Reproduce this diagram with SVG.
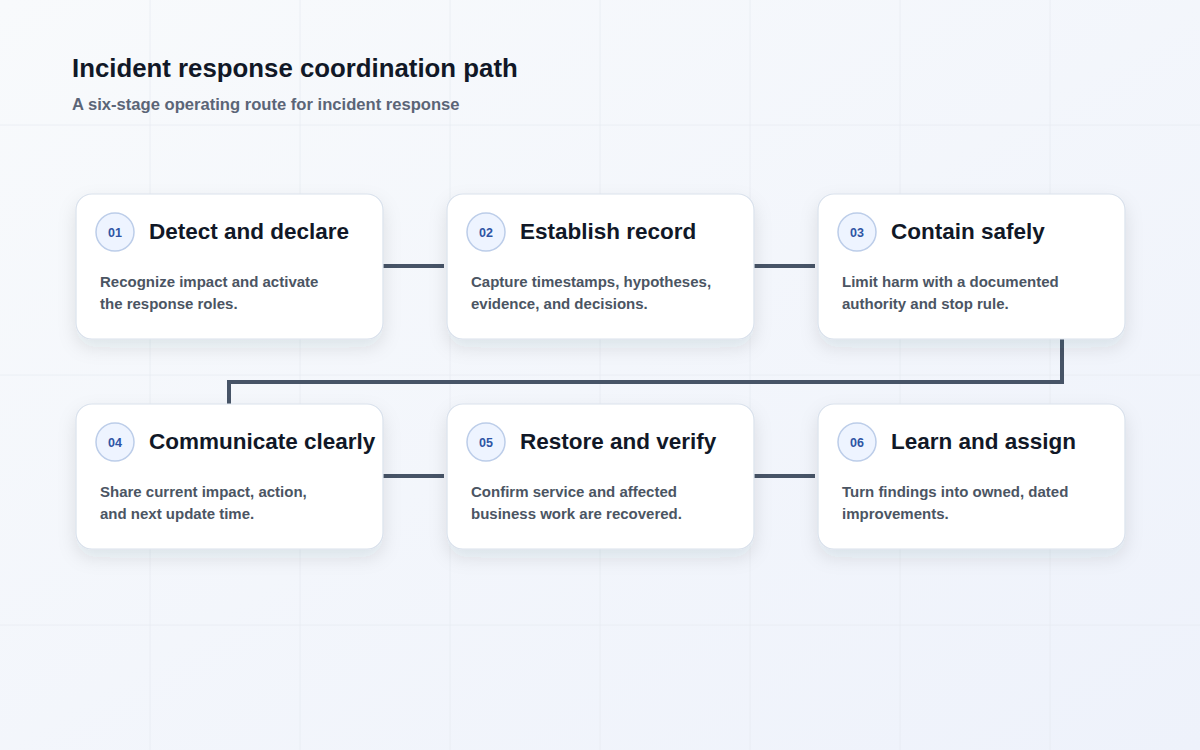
<svg xmlns="http://www.w3.org/2000/svg" width="1200" height="750" viewBox="0 0 1200 750">
<defs>
<linearGradient id="bg" x1="0" y1="0" x2="1" y2="1">
<stop offset="0" stop-color="#f8fafc"/>
<stop offset="1" stop-color="#eef2fb"/>
</linearGradient>
<filter id="sh" x="-20%" y="-20%" width="140%" height="160%">
<feDropShadow dx="0" dy="8" stdDeviation="9" flood-color="#1e293b" flood-opacity="0.10"/>
</filter>
<style>
.grid{stroke:#e6eaf1;stroke-width:1;opacity:0.7}
.card{fill:#ffffff;stroke:#d9e1ec;stroke-width:1.2;filter:url(#sh)}
.badge{fill:#eef4ff;stroke:#bccde9;stroke-width:1.5}
.num{font-family:"Liberation Sans",Arial,sans-serif;font-weight:bold;font-size:12.5px;fill:#2f55a4;text-anchor:middle}
.title{font-family:"Liberation Sans",Arial,sans-serif;font-weight:bold;font-size:22.5px;fill:#111827}
.desc{font-family:"Liberation Sans",Arial,sans-serif;font-weight:bold;font-size:15px;fill:#4b5563}
.conn{fill:none;stroke:#475467;stroke-width:4;stroke-linejoin:miter}
</style>
</defs>
<rect width="1200" height="750" fill="url(#bg)"/>
<g id="grid">
<line class="grid" x1="150" y1="0" x2="150" y2="750"/>
<line class="grid" x1="300" y1="0" x2="300" y2="750"/>
<line class="grid" x1="450" y1="0" x2="450" y2="750"/>
<line class="grid" x1="600" y1="0" x2="600" y2="750"/>
<line class="grid" x1="750" y1="0" x2="750" y2="750"/>
<line class="grid" x1="900" y1="0" x2="900" y2="750"/>
<line class="grid" x1="1050" y1="0" x2="1050" y2="750"/>
<line class="grid" x1="0" y1="125" x2="1200" y2="125"/>
<line class="grid" x1="0" y1="375" x2="1200" y2="375"/>
<line class="grid" x1="0" y1="625" x2="1200" y2="625"/>
</g>
<g id="header">
<text x="72" y="77" font-family="Liberation Sans, Arial, sans-serif" font-weight="bold" font-size="25.8" fill="#111827">Incident response coordination path</text>
<text x="72" y="110" font-family="Liberation Sans, Arial, sans-serif" font-weight="bold" font-size="16.6" fill="#5b6577">A six-stage operating route for incident response</text>
</g>
<g id="connectors">
<line class="conn" x1="383" y1="266" x2="444" y2="266"/>
<line class="conn" x1="754" y1="266" x2="815" y2="266"/>
<polyline class="conn" points="1062,339 1062,382 229,382 229,404"/>
<line class="conn" x1="383" y1="476" x2="444" y2="476"/>
<line class="conn" x1="754" y1="476" x2="815" y2="476"/>
</g>
<g id="node1">
<rect class="card" x="76" y="194" width="307" height="145" rx="16"/>
<circle class="badge" cx="115" cy="232" r="19"/>
<text class="num" x="115" y="237">01</text>
<text class="title" x="149" y="239">Detect and declare</text>
<text class="desc" x="100" y="287">Recognize impact and activate</text>
<text class="desc" x="100" y="309">the response roles.</text>
</g>
<g id="node2">
<rect class="card" x="447" y="194" width="307" height="145" rx="16"/>
<circle class="badge" cx="486" cy="232" r="19"/>
<text class="num" x="486" y="237">02</text>
<text class="title" x="520" y="239">Establish record</text>
<text class="desc" x="471" y="287">Capture timestamps, hypotheses,</text>
<text class="desc" x="471" y="309">evidence, and decisions.</text>
</g>
<g id="node3">
<rect class="card" x="818" y="194" width="307" height="145" rx="16"/>
<circle class="badge" cx="857" cy="232" r="19"/>
<text class="num" x="857" y="237">03</text>
<text class="title" x="891" y="239">Contain safely</text>
<text class="desc" x="842" y="287">Limit harm with a documented</text>
<text class="desc" x="842" y="309">authority and stop rule.</text>
</g>
<g id="node4">
<rect class="card" x="76" y="404" width="307" height="145" rx="16"/>
<circle class="badge" cx="115" cy="442" r="19"/>
<text class="num" x="115" y="447">04</text>
<text class="title" x="149" y="449">Communicate clearly</text>
<text class="desc" x="100" y="497">Share current impact, action,</text>
<text class="desc" x="100" y="519">and next update time.</text>
</g>
<g id="node5">
<rect class="card" x="447" y="404" width="307" height="145" rx="16"/>
<circle class="badge" cx="486" cy="442" r="19"/>
<text class="num" x="486" y="447">05</text>
<text class="title" x="520" y="449">Restore and verify</text>
<text class="desc" x="471" y="497">Confirm service and affected</text>
<text class="desc" x="471" y="519">business work are recovered.</text>
</g>
<g id="node6">
<rect class="card" x="818" y="404" width="307" height="145" rx="16"/>
<circle class="badge" cx="857" cy="442" r="19"/>
<text class="num" x="857" y="447">06</text>
<text class="title" x="891" y="449">Learn and assign</text>
<text class="desc" x="842" y="497">Turn findings into owned, dated</text>
<text class="desc" x="842" y="519">improvements.</text>
</g>
</svg>
